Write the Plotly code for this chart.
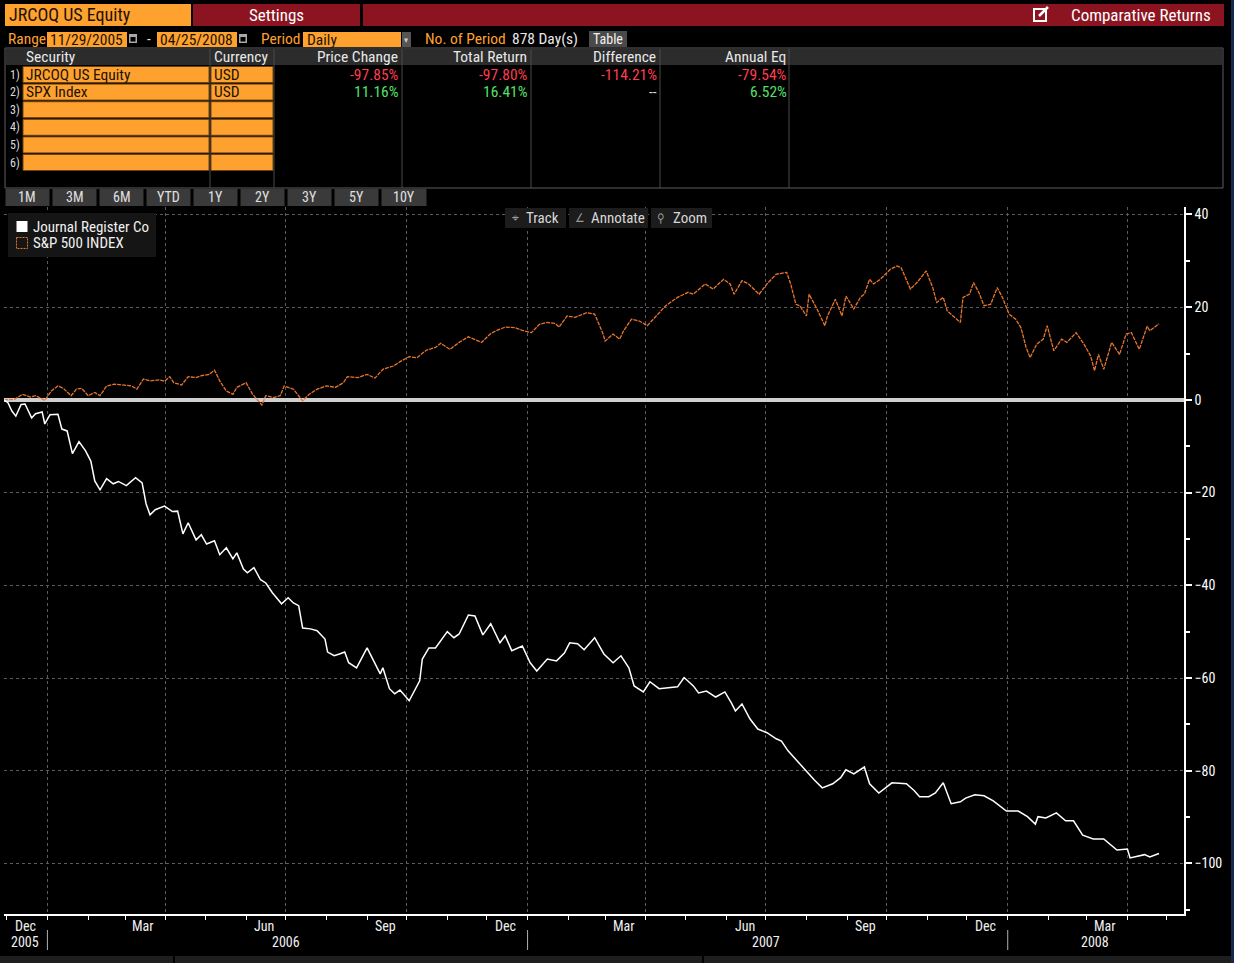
import plotly.graph_objects as go

# ---- data (cumulative % return) ----
jr_dates = [
    "2005-11-29", "2005-12-02", "2005-12-05", "2005-12-08", "2005-12-12", "2005-12-15",
    "2005-12-20", "2005-12-23", "2005-12-28", "2005-12-30", "2006-01-03", "2006-01-09",
    "2006-01-12", "2006-01-16", "2006-01-20", "2006-01-25", "2006-01-30", "2006-02-03",
    "2006-02-06", "2006-02-10", "2006-02-15", "2006-02-20", "2006-02-24", "2006-03-02",
    "2006-03-09", "2006-03-14", "2006-03-17", "2006-03-20", "2006-03-24", "2006-03-31",
    "2006-04-06", "2006-04-10", "2006-04-14", "2006-04-18", "2006-04-24", "2006-04-28",
    "2006-05-02", "2006-05-08", "2006-05-12", "2006-05-17", "2006-05-22", "2006-05-25",
    "2006-05-30", "2006-06-02", "2006-06-07", "2006-06-12", "2006-06-16", "2006-06-21",
    "2006-06-28", "2006-07-03", "2006-07-07", "2006-07-11", "2006-07-14", "2006-07-20",
    "2006-07-25", "2006-07-31", "2006-08-02", "2006-08-07", "2006-08-11", "2006-08-15",
    "2006-08-18", "2006-08-24", "2006-09-01", "2006-09-05", "2006-09-11", "2006-09-13",
    "2006-09-18", "2006-09-22", "2006-09-26", "2006-10-03", "2006-10-11", "2006-10-13",
    "2006-10-18", "2006-10-23", "2006-11-01", "2006-11-06", "2006-11-10", "2006-11-17",
    "2006-11-22", "2006-11-28", "2006-12-04", "2006-12-11", "2006-12-15", "2006-12-20",
    "2006-12-28", "2007-01-03", "2007-01-08", "2007-01-16", "2007-01-23", "2007-01-29",
    "2007-02-02", "2007-02-08", "2007-02-13", "2007-02-21", "2007-02-28", "2007-03-07",
    "2007-03-13", "2007-03-19", "2007-03-23", "2007-03-30", "2007-04-04", "2007-04-11",
    "2007-04-18", "2007-04-25", "2007-04-30", "2007-05-07", "2007-05-11", "2007-05-17",
    "2007-05-24", "2007-05-31", "2007-06-05", "2007-06-08", "2007-06-13", "2007-06-19",
    "2007-06-25", "2007-07-02", "2007-07-09", "2007-07-13", "2007-07-18", "2007-07-25",
    "2007-08-02", "2007-08-07", "2007-08-13", "2007-08-21", "2007-08-27", "2007-08-31",
    "2007-09-06", "2007-09-14", "2007-09-18", "2007-09-25", "2007-10-05", "2007-10-16",
    "2007-10-22", "2007-10-26", "2007-11-02", "2007-11-07", "2007-11-13", "2007-11-19",
    "2007-11-26", "2007-11-30", "2007-12-07", "2007-12-14", "2007-12-21", "2007-12-31",
    "2008-01-09", "2008-01-16", "2008-01-22", "2008-01-24", "2008-01-30", "2008-02-07",
    "2008-02-14", "2008-02-20", "2008-02-27", "2008-03-06", "2008-03-14", "2008-03-24",
    "2008-04-01", "2008-04-03", "2008-04-14", "2008-04-18", "2008-04-25",
]
jr_values = [
    0.0, -0.6, -2.4, -3.5, -1.0, -0.9,
    -3.9, -3.0, -2.6, -5.2, -3.2, -3.1,
    -6.3, -6.7, -11.6, -9.0, -11.0, -13.2,
    -17.5, -19.4, -17.0, -18.1, -17.6, -18.5,
    -16.8, -17.9, -22.4, -24.8, -23.7, -22.9,
    -24.1, -24.0, -28.9, -26.5, -30.2, -29.1,
    -31.1, -30.4, -33.4, -31.9, -34.3, -33.0,
    -36.5, -37.3, -36.2, -38.8, -39.5, -41.6,
    -44.0, -42.7, -43.8, -44.4, -49.2, -49.4,
    -49.8, -51.6, -54.4, -55.2, -54.8, -54.4,
    -56.7, -57.8, -53.5, -55.7, -59.1, -57.8,
    -62.3, -63.4, -62.6, -64.9, -60.6, -55.9,
    -53.5, -53.5, -50.0, -51.3, -50.5, -46.4,
    -46.6, -50.7, -48.3, -52.4, -50.9, -54.1,
    -53.1, -56.7, -58.5, -55.9, -56.3, -54.6,
    -52.4, -52.6, -53.9, -51.3, -54.8, -56.7,
    -55.2, -57.8, -61.7, -63.0, -60.8, -62.3,
    -62.1, -61.9, -59.9, -61.7, -63.2, -62.8,
    -64.1, -63.0, -65.4, -67.1, -65.6, -68.8,
    -71.0, -71.8, -73.1, -73.6, -75.7, -77.9,
    -80.5, -82.0, -83.7, -82.8, -81.5, -79.8,
    -80.7, -79.2, -82.8, -84.8, -82.6, -82.8,
    -84.3, -85.6, -85.6, -84.8, -82.6, -87.1,
    -86.7, -85.9, -85.2, -85.4, -86.5, -88.7,
    -88.7, -89.9, -91.5, -89.9, -90.2, -89.1,
    -90.8, -90.8, -93.9, -94.7, -94.7, -97.1,
    -96.9, -98.8, -98.1, -98.6, -97.85,
]

spx_dates = [
    "2005-11-29", "2005-12-07", "2005-12-13", "2005-12-19", "2005-12-23", "2005-12-30",
    "2006-01-04", "2006-01-09", "2006-01-13", "2006-01-19", "2006-01-23", "2006-01-27",
    "2006-02-01", "2006-02-06", "2006-02-10", "2006-02-15", "2006-02-21", "2006-02-27",
    "2006-03-06", "2006-03-10", "2006-03-15", "2006-03-20", "2006-03-27", "2006-03-31",
    "2006-04-04", "2006-04-07", "2006-04-13", "2006-04-18", "2006-04-24", "2006-04-28",
    "2006-05-04", "2006-05-08", "2006-05-12", "2006-05-17", "2006-05-22", "2006-05-25",
    "2006-06-01", "2006-06-06", "2006-06-13", "2006-06-16", "2006-06-22", "2006-06-27",
    "2006-06-30", "2006-07-07", "2006-07-14", "2006-07-19", "2006-07-25", "2006-08-01",
    "2006-08-08", "2006-08-14", "2006-08-17", "2006-08-25", "2006-09-01", "2006-09-07",
    "2006-09-13", "2006-09-21", "2006-09-27", "2006-10-03", "2006-10-09", "2006-10-16",
    "2006-10-23", "2006-10-27", "2006-11-03", "2006-11-10", "2006-11-17", "2006-11-27",
    "2006-12-04", "2006-12-08", "2006-12-15", "2006-12-22", "2006-12-28", "2007-01-04",
    "2007-01-10", "2007-01-16", "2007-01-22", "2007-01-25", "2007-01-31", "2007-02-06",
    "2007-02-15", "2007-02-21", "2007-02-27", "2007-03-01", "2007-03-07", "2007-03-12",
    "2007-03-15", "2007-03-21", "2007-03-27", "2007-04-02", "2007-04-09", "2007-04-16",
    "2007-04-25", "2007-05-03", "2007-05-07", "2007-05-16", "2007-05-22", "2007-05-30",
    "2007-06-04", "2007-06-07", "2007-06-13", "2007-06-18", "2007-06-26", "2007-07-02",
    "2007-07-09", "2007-07-17", "2007-07-20", "2007-07-24", "2007-07-27", "2007-08-01",
    "2007-08-03", "2007-08-09", "2007-08-15", "2007-08-17", "2007-08-23", "2007-08-28",
    "2007-08-31", "2007-09-06", "2007-09-11", "2007-09-14", "2007-09-18", "2007-09-21",
    "2007-09-26", "2007-10-01", "2007-10-04", "2007-10-09", "2007-10-12", "2007-10-19",
    "2007-10-24", "2007-10-31", "2007-11-05", "2007-11-08", "2007-11-13", "2007-11-16",
    "2007-11-26", "2007-11-28", "2007-12-03", "2007-12-06", "2007-12-10", "2007-12-14",
    "2007-12-19", "2007-12-24", "2007-12-28", "2008-01-02", "2008-01-07", "2008-01-11",
    "2008-01-15", "2008-01-18", "2008-01-23", "2008-01-28", "2008-01-31", "2008-02-05",
    "2008-02-11", "2008-02-15", "2008-02-22", "2008-02-28", "2008-03-04", "2008-03-07",
    "2008-03-10", "2008-03-14", "2008-03-18", "2008-03-20", "2008-03-26", "2008-03-31",
    "2008-04-04", "2008-04-10", "2008-04-16", "2008-04-18", "2008-04-25",
]
spx_values = [
    0.0, 0.1, 1.2, 0.6, 0.9, -0.1,
    1.9, 3.0, 2.5, 0.9, 2.3, 2.5,
    0.9, 1.6, 0.9, 3.0, 3.4, 3.2,
    3.0, 2.3, 4.5, 4.1, 4.3, 4.0,
    5.0, 3.7, 3.2, 5.0, 4.8, 5.2,
    5.5, 6.4, 4.1, 1.9, 1.2, 2.7,
    3.7, 1.2, -1.1, 0.9, 0.5, 0.9,
    3.0, 2.3, -0.2, 1.2, 2.3, 3.0,
    2.7, 3.7, 5.0, 4.8, 5.5, 4.7,
    6.6, 7.3, 8.4, 9.3, 9.1, 10.7,
    11.3, 12.2, 10.9, 12.4, 13.6, 12.4,
    14.3, 14.9, 15.7, 15.6, 15.0, 14.5,
    16.3, 16.7, 16.5, 15.7, 18.1, 17.8,
    18.8, 18.5, 14.5, 12.7, 14.2, 13.1,
    14.9, 17.4, 17.0, 16.0, 18.1, 20.3,
    22.1, 23.2, 22.8, 25.0, 23.9, 26.0,
    25.0, 22.8, 25.7, 25.0, 22.8, 25.0,
    27.1, 27.5, 25.0, 20.6, 20.3, 18.1,
    22.8, 19.6, 16.0, 18.1, 21.7, 18.1,
    22.4, 19.6, 22.1, 22.8, 26.0, 25.0,
    26.0, 27.5, 28.2, 28.9, 28.5, 23.9,
    25.3, 27.8, 24.2, 21.0, 22.1, 19.2,
    16.7, 22.1, 22.8, 25.3, 23.2, 20.3,
    20.6, 24.2, 22.1, 18.5, 17.4, 15.6,
    11.3, 9.1, 12.0, 13.1, 16.0, 10.6,
    13.1, 12.4, 14.5, 12.0, 9.5, 6.3,
    9.8, 6.6, 10.6, 12.4, 9.8, 14.2,
    14.5, 10.9, 15.9, 14.9, 16.41,
]

securities = ["JRCOQ US Equity", "SPX Index", "", "", "", ""]
currencies = ["USD", "USD", "", "", "", ""]
price_change = ["-97.85%", "11.16%"]
total_return = ["-97.80%", "16.41%"]
difference = ["-114.21%", "--"]
annual_eq = ["-79.54%", "6.52%"]
header_cols = ["Price Change", "Total Return", "Difference", "Annual Eq"]
period_buttons = ["1M", "3M", "6M", "YTD", "1Y", "2Y", "3Y", "5Y", "10Y"]

month_pos = ["2005-12-15", "2006-03-15", "2006-06-15", "2006-09-15", "2006-12-15",
             "2007-03-15", "2007-06-15", "2007-09-15", "2007-12-15", "2008-03-15"]
month_labels = ["Dec", "Mar", "Jun", "Sep", "Dec", "Mar", "Jun", "Sep", "Dec", "Mar"]
year_pos = ["2005-12-15", "2006-07-01", "2007-07-01", "2008-03-07"]
year_labels = ["2005", "2006", "2007", "2008"]
year_breaks = ["2006-01-01", "2007-01-01", "2008-01-01"]

# ---- page geometry (pixels) ----
W, H = 1234, 963
L, R, T, B = 4, 1184, 207, 914

FONT = "Liberation Sans Narrow, Roboto Condensed, DejaVu Sans Condensed, Liberation Sans, sans-serif"
ORANGE = "#ffa12e"
RED_BAR = "#8c1420"
RED_TXT = "#ff3d4f"
GREEN_TXT = "#52e06a"


def fx(px):
    return (px - L) / (R - L)


def fy(py):
    return (B - py) / (B - T)


shapes = []
annotations = []


def rect(x0, y0, x1, y1, fill, line=None, width=1, dash=None):
    ln = dict(width=0) if line is None else dict(color=line, width=width, dash=dash)
    shapes.append(dict(type="rect", xref="paper", yref="paper",
                       x0=fx(x0), x1=fx(x1), y0=fy(y0), y1=fy(y1),
                       fillcolor=fill, line=ln, layer="above"))


def vline(x, y0, y1, color, width=1):
    shapes.append(dict(type="line", xref="paper", yref="paper",
                       x0=fx(x), x1=fx(x), y0=fy(y0), y1=fy(y1),
                       line=dict(color=color, width=width), layer="above"))


def txt(x, y, s, color="#e8e8e8", size=15.5, anchor="left"):
    annotations.append(dict(xref="paper", yref="paper", x=fx(x), y=fy(y), text=s,
                            showarrow=False, xanchor=anchor, yanchor="middle",
                            font=dict(family=FONT, size=size, color=color)))


# header bar
rect(5, 4, 191, 26, ORANGE)
txt(7, 15, "JRCOQ US Equity", "#1c1205", 18)
rect(193, 4, 360, 26, RED_BAR)
txt(276, 15, "Settings", "#ffffff", 17, "center")
rect(363, 4, 1224, 26, RED_BAR)
rect(1034, 9, 1046, 21, RED_BAR, "#ffffff", 2)
shapes.append(dict(type="line", xref="paper", yref="paper", x0=fx(1039), x1=fx(1048),
                   y0=fy(16), y1=fy(7), line=dict(color="#ffffff", width=2.5), layer="above"))
txt(1213, 15, "Comparative Returns", "#ffffff", 17, "right")

# range row
txt(6, 39, "Range", ORANGE)
rect(47, 32, 127, 47, ORANGE)
txt(48, 39.5, "11/29/2005", "#1c1205")
rect(129, 34, 137, 43, "#a8a8a8")
rect(130.5, 37, 135.5, 41.5, "#000000")
txt(149, 39, "-", "#e8e8e8", 15, "center")
rect(157, 32, 237, 47, ORANGE)
txt(158, 39.5, "04/25/2008", "#1c1205")
rect(239, 34, 247, 43, "#a8a8a8")
rect(240.5, 37, 245.5, 41.5, "#000000")
txt(259, 39, "Period", ORANGE)
rect(303, 32, 401, 47, ORANGE)
txt(305, 39.5, "Daily", "#1c1205")
rect(402, 32, 411, 47, "#555555")
txt(406.5, 39.5, "▾", "#cccccc", 9, "center")
txt(423, 39, "No. of Period", ORANGE)
txt(510, 39, "878 Day(s)", "#e8e8e8")
rect(589, 31, 627, 47, "#4a4a4a")
txt(608, 39, "Table", "#f0f0f0", 14, "center")

# table
rect(5, 48, 1223, 188, "rgba(0,0,0,0)", "#5e5e5e", 1)
rect(6, 49, 1222, 65, "#2c2c2c")
txt(24, 57, "Security", "#e8e8e8")
txt(212, 57, "Currency", "#e8e8e8")
col_right = [400, 529, 658, 788]
for c, name in enumerate(header_cols):
    txt(col_right[c], 57, name, "#e8e8e8", 15.5, "right")
for xs in [210, 274, 402, 531, 660, 789]:
    vline(xs, 49, 188, "#4a4a4a")

value_cols = [price_change, total_return, difference, annual_eq]
for i in range(len(securities)):
    top = 66.5 + i * 17.6
    mid = top + 8
    txt(15, mid, str(i + 1) + ")", "#dddddd", 12, "center")
    rect(23, top, 209, top + 16, ORANGE, "#6b4210", 1)
    rect(211, top, 273, top + 16, ORANGE, "#6b4210", 1)
    if securities[i]:
        txt(24, mid, securities[i], "#1c1205")
        txt(212, mid, currencies[i], "#1c1205")
    if i < len(price_change):
        for c, col in enumerate(value_cols):
            val = col[i]
            if val == "--":
                color = "#d8d8d8"
            elif val.startswith("-"):
                color = RED_TXT
            else:
                color = GREEN_TXT
            txt(col_right[c] + 1, mid, val, color, 15.5, "right")

# period buttons
bx = 5.5
for lab in period_buttons:
    bw = 44 if lab != "10Y" else 45
    rect(bx, 189, bx + bw, 206, "#3a3a3a")
    txt(bx + bw / 2, 197.5, lab, "#e0e0e0", 14, "center")
    bx += bw + 3

# legend
rect(8, 213, 156, 257, "#151515")
rect(16.5, 221, 27.5, 232, "#ffffff")
txt(31, 227, "Journal Register Co", "#f0f0f0", 15)
rect(16.5, 237.5, 27.5, 248.5, "rgba(0,0,0,0)", "#e8752d", 1, "2px,1px")
txt(31, 243, "S&P 500 INDEX", "#f0f0f0", 15)

# chart toolbar
rect(505, 208, 566, 228, "#1c1c1c")
txt(515, 218, "⌖", "#9a9a9a", 12, "center")
txt(524, 218, "Track", "#d8d8d8", 15)
rect(569, 208, 648, 228, "#1c1c1c")
txt(580, 218, "∠", "#9a9a9a", 12, "center")
txt(589, 218, "Annotate", "#d8d8d8", 15)
rect(651, 208, 712, 228, "#1c1c1c")
txt(661, 218, "⚲", "#9a9a9a", 12, "center")
txt(671, 218, "Zoom", "#d8d8d8", 15)

# bottom strip and right border
rect(0, 956, 1234, 963, "#1e1e1e")
vline(174, 956, 963, "#000000", 2)
vline(703, 956, 963, "#000000", 2)
rect(1231, 0, 1234, 963, "#16284d")

# x-axis month / year labels
for p, lab in zip(month_pos, month_labels):
    annotations.append(dict(xref="x", yref="paper", x=p, y=fy(926), text=lab,
                            showarrow=False, xanchor="center", yanchor="middle",
                            font=dict(family=FONT, size=14, color="#f0f0f0")))
for p, lab in zip(year_pos, year_labels):
    annotations.append(dict(xref="x", yref="paper", x=p, y=fy(942), text=lab,
                            showarrow=False, xanchor="center", yanchor="middle",
                            font=dict(family=FONT, size=14, color="#f0f0f0")))
for p in year_breaks:
    shapes.append(dict(type="line", xref="x", yref="paper", x0=p, x1=p,
                       y0=fy(930), y1=fy(950), line=dict(color="#b0b0b0", width=1)))

fig = go.Figure()
fig.add_trace(go.Scatter(x=spx_dates, y=spx_values, mode="lines", name="S&P 500 INDEX",
                         line=dict(color="#e8752d", width=1.3, dash="4px,1px"),
                         showlegend=False))
fig.add_trace(go.Scatter(x=jr_dates, y=jr_values, mode="lines", name="Journal Register Co",
                         line=dict(color="#ffffff", width=1.5), showlegend=False))

fig.update_layout(
    width=W, height=H,
    margin=dict(l=L, r=W - R, t=T, b=H - B, pad=0),
    paper_bgcolor="#000000", plot_bgcolor="#000000",
    font=dict(family=FONT, color="#ffffff"),
    shapes=shapes, annotations=annotations,
    showlegend=False,
)
fig.update_xaxes(
    type="date", range=["2005-11-29", "2008-05-14"],
    showline=True, linecolor="#ffffff", linewidth=1.5,
    tick0="2006-01-01", dtick="M3", ticks="outside", ticklen=4, tickcolor="#ffffff",
    showticklabels=False,
    showgrid=True, gridcolor="#5c5c5c", griddash="dot", gridwidth=1,
    minor=dict(tick0="2005-12-01", dtick="M1", ticks="outside", ticklen=4,
               tickcolor="#ffffff", showgrid=False),
    zeroline=False, fixedrange=True,
)
fig.update_yaxes(
    side="right", range=[-110.9, 41.6],
    tick0=0, dtick=20, ticks="outside", ticklen=6, tickwidth=2, tickcolor="#ffffff",
    tickfont=dict(family=FONT, size=14, color="#ffffff"),
    showline=True, linecolor="#ffffff", linewidth=1.5,
    showgrid=True, gridcolor="#5c5c5c", griddash="dot", gridwidth=1,
    minor=dict(dtick=10, ticks="outside", ticklen=4, tickcolor="#ffffff", showgrid=False),
    zeroline=True, zerolinecolor="#cfcfcf", zerolinewidth=4, fixedrange=True,
)

fig.write_html("out.html", config={"displayModeBar": False},
               post_script="document.body.style.margin='0';document.body.style.overflow='hidden';")
